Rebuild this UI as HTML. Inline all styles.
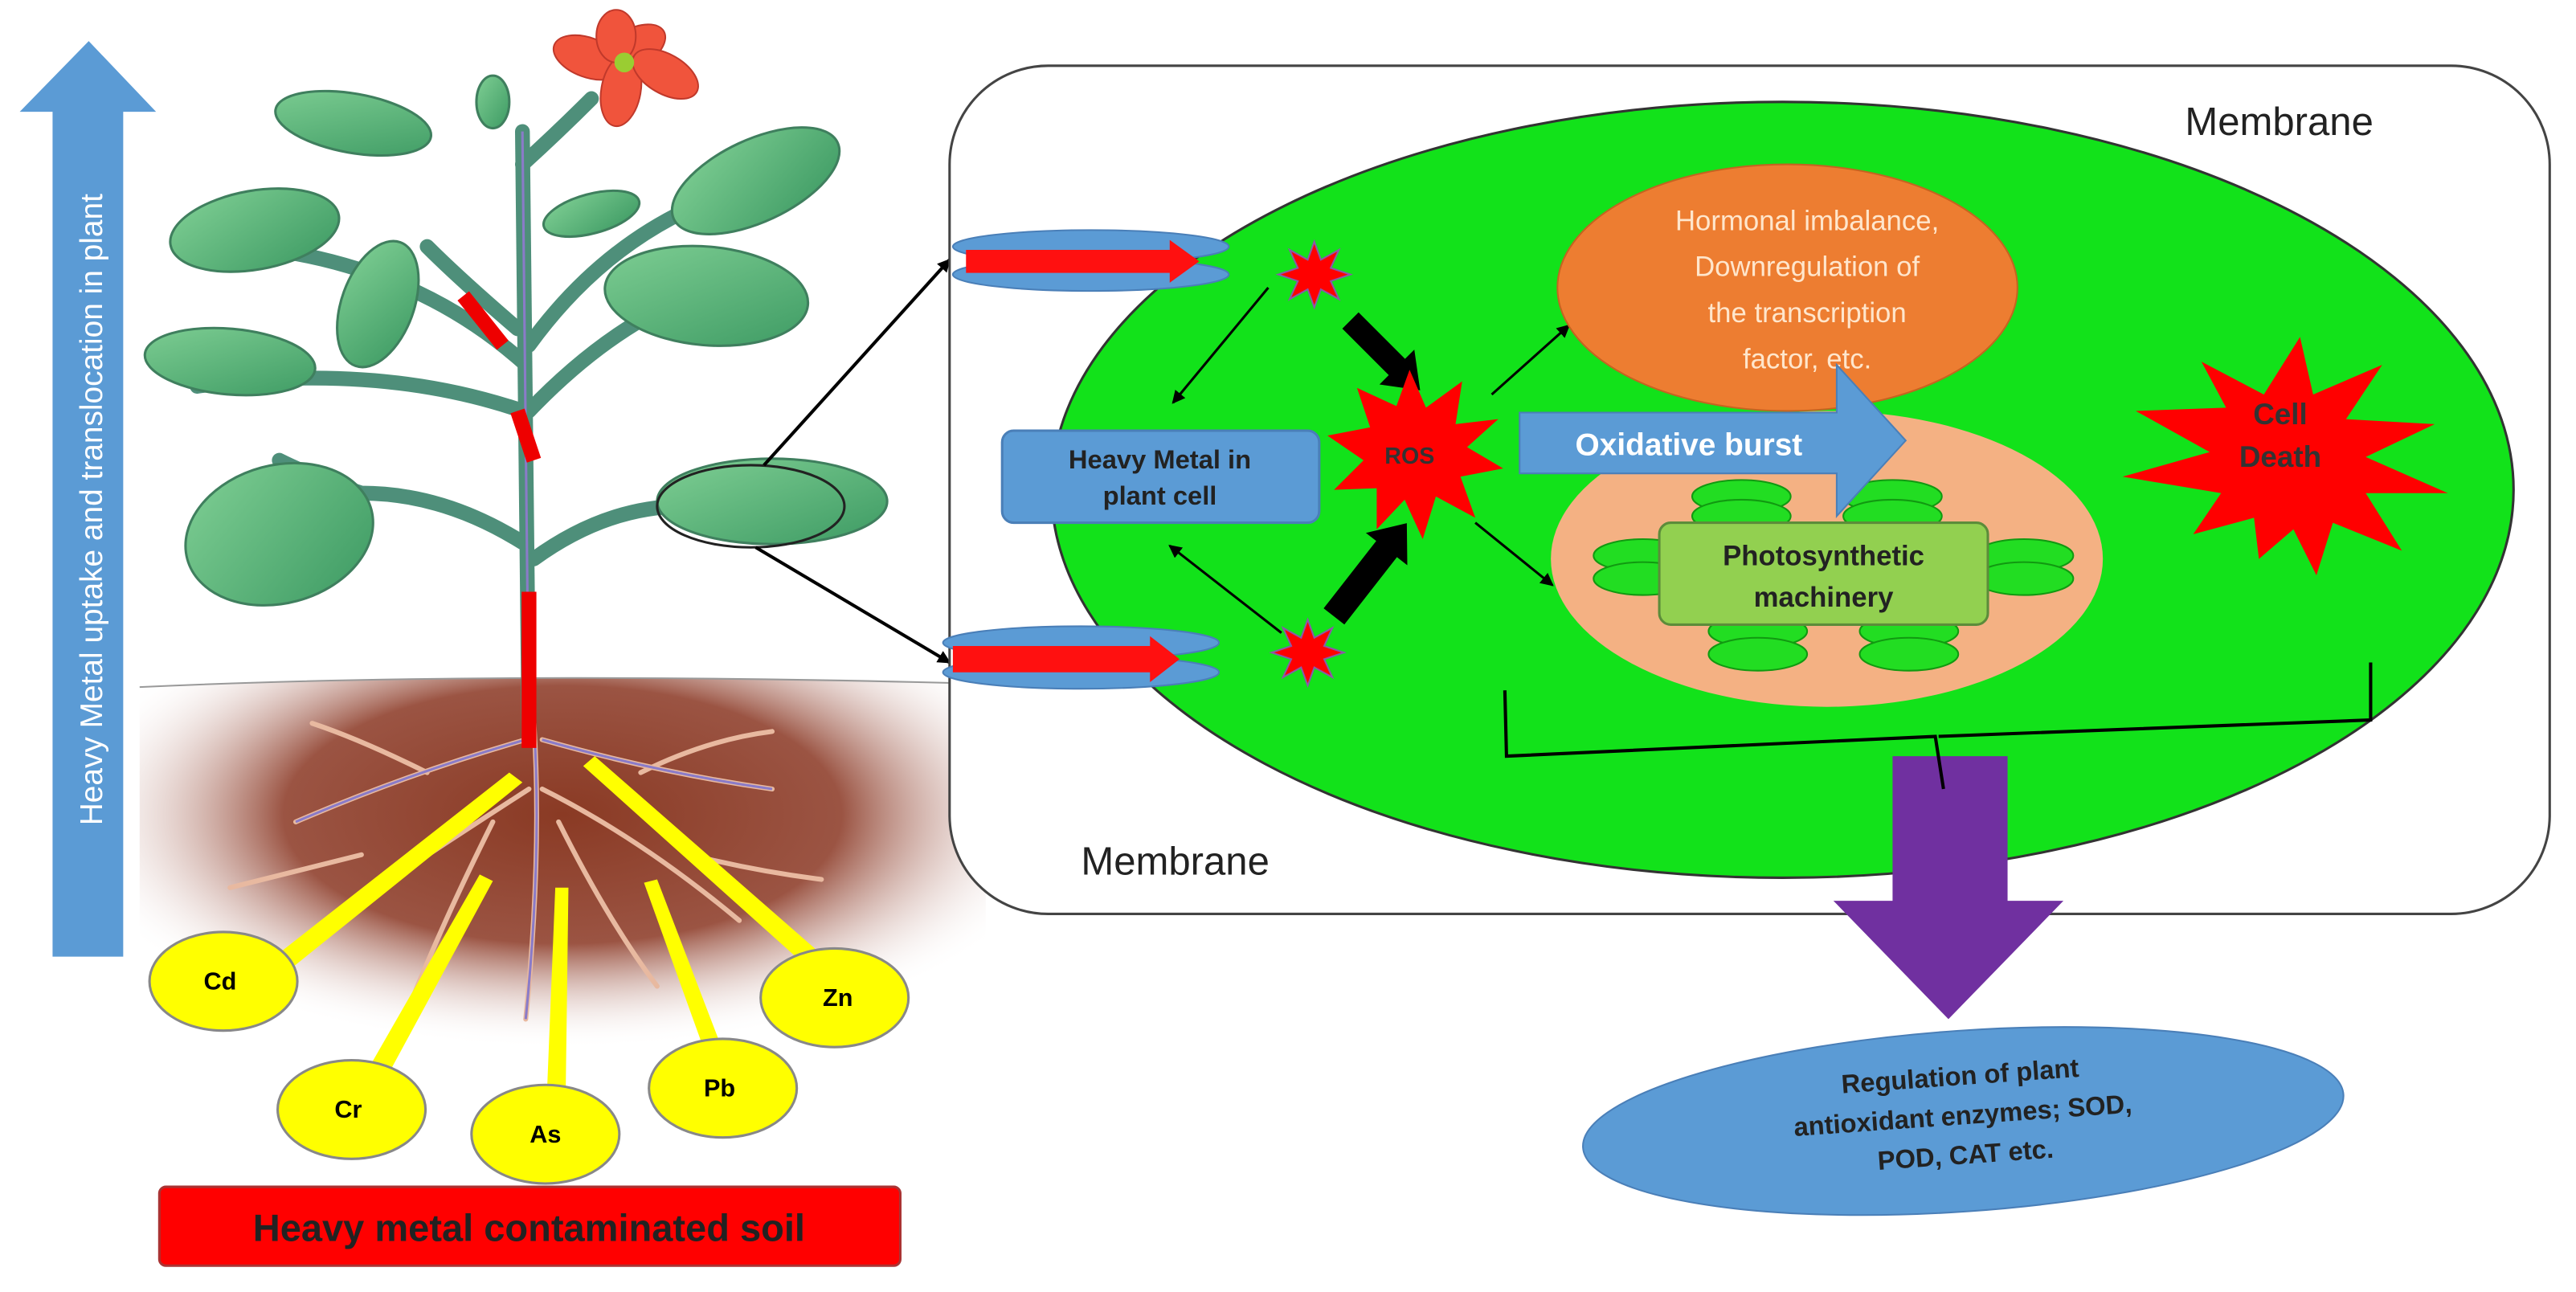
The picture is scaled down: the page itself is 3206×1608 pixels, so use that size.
<!DOCTYPE html>
<html><head><meta charset="utf-8"><style>
html,body{margin:0;padding:0;background:#fff}
svg{display:block}
text{font-family:"Liberation Sans",Arial,sans-serif}
</style></head><body>
<svg width="3206" height="1608" viewBox="0 0 1568 786" preserveAspectRatio="none" xmlns="http://www.w3.org/2000/svg">
<defs>
<radialGradient id="soil" cx="0.5" cy="0.35" r="0.6">
<stop offset="0" stop-color="#8a3a24"/><stop offset="0.55" stop-color="#9b5443"/><stop offset="1" stop-color="#fff" stop-opacity="0"/>
</radialGradient>
<linearGradient id="leaf" x1="0" y1="0" x2="1" y2="1"><stop offset="0" stop-color="#7fcf94"/><stop offset="1" stop-color="#3d9a63"/></linearGradient>
<marker id="ah" markerWidth="8" markerHeight="8" refX="7" refY="4" orient="auto" markerUnits="userSpaceOnUse"><path d="M0,0 L8,4 L0,8z" fill="#000"/></marker>
</defs>
<rect width="1568" height="786" fill="#fff"/>
<path d="M85,418 Q300,408 600,416 L600,650 L85,650z" fill="url(#soil)"/>
<path d="M85,418 Q300,408 600,416" stroke="#999" stroke-width="1" fill="none"/>
<polygon points="32,582 75,582 75,68 95,68 54,25 12,68 32,68" fill="#5b9bd5"/>
<text transform="translate(62,310) rotate(-90)" text-anchor="middle" font-size="19" fill="#fff">Heavy Metal uptake and translocation in plant</text>
<g stroke="#e8b9a0" stroke-width="3" fill="none" stroke-linecap="round">
<path d="M325,440 Q330,520 320,620"/><path d="M320,450 Q250,470 180,500"/><path d="M330,450 Q400,470 470,480"/>
<path d="M322,480 Q260,520 200,560"/><path d="M330,480 Q390,510 450,560"/><path d="M300,500 Q270,560 250,610"/>
<path d="M340,500 Q370,560 400,600"/><path d="M260,470 Q220,450 190,440"/><path d="M390,470 Q430,450 470,445"/>
<path d="M220,520 Q180,530 140,540"/><path d="M420,520 Q460,530 500,535"/>
</g>
<g stroke="#8a7bc8" stroke-width="1.5" fill="none"><path d="M325,440 Q330,520 320,620"/><path d="M320,450 Q250,470 180,500"/><path d="M330,450 Q400,470 470,480"/></g>
<g fill="#ffff00">
<polygon points="148,597 310,470 318,476 160,603"/>
<polygon points="210,675 292,532 300,536 222,680"/>
<polygon points="332,688 338,540 346,540 344,690"/>
<polygon points="437,662 392,537 400,535 448,660"/>
<polygon points="510,605 355,466 362,460 520,598"/>
</g>
<g fill="#ffff00" stroke="#888" stroke-width="1.5">
<ellipse cx="136" cy="597" rx="45" ry="30"/><ellipse cx="214" cy="675" rx="45" ry="30"/>
<ellipse cx="332" cy="690" rx="45" ry="30"/><ellipse cx="440" cy="662" rx="45" ry="30"/><ellipse cx="508" cy="607" rx="45" ry="30"/>
</g>
<g font-size="15" font-weight="bold" text-anchor="middle" fill="#000">
<text x="134" y="602">Cd</text><text x="212" y="680">Cr</text><text x="332" y="695">As</text><text x="438" y="667">Pb</text><text x="510" y="612">Zn</text>
</g>
<g stroke="#4e8f7a" stroke-width="9" fill="none" stroke-linecap="round">
<path d="M322,450 L318,80"/>
<path d="M318,100 Q340,80 360,60"/>
<path d="M318,220 Q250,160 150,150"/>
<path d="M318,250 Q230,220 120,235"/>
<path d="M318,330 Q270,300 220,300 Q190,290 170,280"/>
<path d="M315,200 Q280,170 260,150"/>
<path d="M322,210 Q380,130 470,110"/>
<path d="M322,250 Q370,200 420,180"/>
<path d="M325,340 Q380,300 440,310"/>
</g>
<g stroke="#8a7bc8" stroke-width="1.5" fill="none"><path d="M322,450 L318,80"/></g>
<g fill="url(#leaf)" stroke="#3f7f5e" stroke-width="1.5">
<ellipse cx="215" cy="75" rx="48" ry="18" transform="rotate(10 215 75)"/>
<ellipse cx="155" cy="140" rx="52" ry="24" transform="rotate(-10 155 140)"/>
<ellipse cx="140" cy="220" rx="52" ry="20" transform="rotate(5 140 220)"/>
<ellipse cx="230" cy="185" rx="22" ry="40" transform="rotate(20 230 185)"/>
<ellipse cx="170" cy="325" rx="58" ry="42" transform="rotate(-15 170 325)"/>
<ellipse cx="460" cy="110" rx="55" ry="25" transform="rotate(-25 460 110)"/>
<ellipse cx="430" cy="180" rx="62" ry="30" transform="rotate(5 430 180)"/>
<ellipse cx="470" cy="305" rx="70" ry="26" transform="rotate(0 470 305)"/>
<ellipse cx="360" cy="130" rx="30" ry="12" transform="rotate(-15 360 130)"/>
<ellipse cx="300" cy="62" rx="10" ry="16"/>
</g>
<g fill="#f0543c" stroke="#c0392b" stroke-width="1">
<ellipse cx="385" cy="30" rx="22" ry="12" transform="rotate(-30 385 30)"/>
<ellipse cx="358" cy="35" rx="22" ry="12" transform="rotate(20 358 35)"/>
<ellipse cx="378" cy="55" rx="12" ry="22" transform="rotate(10 378 55)"/>
<ellipse cx="405" cy="45" rx="22" ry="12" transform="rotate(30 405 45)"/>
<ellipse cx="375" cy="22" rx="12" ry="16"/>
</g>
<circle cx="380" cy="38" r="6" fill="#9acd32"/>
<g stroke="#e00" stroke-width="9" stroke-linecap="butt">
<line x1="282" y1="180" x2="306" y2="210"/><line x1="315" y1="250" x2="325" y2="280"/><line x1="322" y1="360" x2="322" y2="455"/>
</g>
<ellipse cx="457" cy="308" rx="57" ry="25" fill="none" stroke="#222" stroke-width="1.5"/>
<line x1="465" y1="283" x2="578" y2="158" stroke="#000" stroke-width="2" marker-end="url(#ah)"/>
<line x1="460" y1="333" x2="578" y2="403" stroke="#000" stroke-width="2" marker-end="url(#ah)"/>
<rect x="97" y="722" width="451" height="48" rx="4" fill="#ff0000" stroke="#a33" stroke-width="1.5"/>
<text x="322" y="755" font-size="23" font-weight="bold" text-anchor="middle" fill="#222">Heavy metal contaminated soil</text>

<rect x="578" y="40" width="974" height="516" rx="60" fill="#fff" stroke="#444" stroke-width="1.5"/>
<ellipse cx="1085" cy="298" rx="445" ry="236" fill="#12e21a" stroke="#333" stroke-width="1.5"/>
<text x="1330" y="82" font-size="24" fill="#222">Membrane</text>
<text x="658" y="532" font-size="24" fill="#222">Membrane</text>
<g fill="#5b9bd5" stroke="#4a7fb8" stroke-width="1">
<ellipse cx="664" cy="150" rx="84" ry="10"/><ellipse cx="664" cy="167" rx="84" ry="10"/>
<ellipse cx="658" cy="391" rx="84" ry="10"/><ellipse cx="658" cy="409" rx="84" ry="10"/>
</g>
<polygon points="588,152 712,152 712,146 730,159 712,172 712,166 588,166" fill="#ff1010"/>
<polygon points="580,393 700,393 700,387 718,401 700,415 700,409 580,409" fill="#ff1010"/>
<g fill="#ff0000" stroke="#8a5aa8" stroke-width="1">
<polygon points="800,147 804,158 815,152 810,163 822,167 810,171 815,182 804,176 800,187 796,176 785,182 790,171 778,167 790,163 785,152 796,158"/>
<polygon points="796,377 800,388 811,382 806,393 818,397 806,401 811,412 800,406 796,417 792,406 781,412 786,401 774,397 786,393 781,382 792,388"/>
</g>
<g stroke="#000" stroke-width="1.5" marker-end="url(#ah)">
<line x1="772" y1="175" x2="714" y2="245"/>
<line x1="780" y1="385" x2="712" y2="332"/>
<line x1="908" y1="240" x2="955" y2="198"/>
<line x1="898" y1="318" x2="945" y2="356"/>
</g>
<!-- thick black arrows -->
<g transform="translate(822,195) rotate(45)">
<polygon points="0,-7 40,-7 40,-15 60,0 40,15 40,7 0,7" fill="#000"/>
</g>
<g transform="translate(812,375) rotate(-52)">
<polygon points="0,-8 52,-8 52,-16 72,0 52,16 52,8 0,8" fill="#000"/>
</g>
<rect x="610" y="262" width="193" height="56" rx="7" fill="#5b9bd5" stroke="#4a7fb8" stroke-width="1.5"/>
<text x="706" y="285" font-size="16" font-weight="bold" text-anchor="middle" fill="#222">Heavy Metal in</text>
<text x="706" y="307" font-size="16" font-weight="bold" text-anchor="middle" fill="#222">plant cell</text>
<polygon fill="#ff0000" points="858,225 868,248 890,232 886,258 912,255 893,272 915,285 889,290 898,315 874,302 866,328 855,304 838,322 838,297 812,298 830,280 808,265 834,260 826,236 850,247" />
<text x="858" y="282" font-size="14" font-weight="bold" text-anchor="middle" fill="#333">ROS</text>
<ellipse cx="1088" cy="175" rx="140" ry="75" fill="#ed7d31" stroke="#c46420" stroke-width="1"/>
<g font-size="17" text-anchor="middle" fill="#ffe6cc">
<text x="1100" y="140">Hormonal imbalance,</text>
<text x="1100" y="168">Downregulation of</text>
<text x="1100" y="196">the transcription</text>
<text x="1100" y="224">factor, etc.</text>
</g>
<ellipse cx="1112" cy="340" rx="168" ry="90" fill="#f4b183"/>
<g fill="#22dd22" stroke="#119911" stroke-width="1">
<ellipse cx="1060" cy="302" rx="30" ry="10"/><ellipse cx="1060" cy="314" rx="30" ry="10"/>
<ellipse cx="1152" cy="302" rx="30" ry="10"/><ellipse cx="1152" cy="314" rx="30" ry="10"/>
<ellipse cx="1000" cy="338" rx="30" ry="10"/><ellipse cx="1000" cy="352" rx="30" ry="10"/>
<ellipse cx="1232" cy="338" rx="30" ry="10"/><ellipse cx="1232" cy="352" rx="30" ry="10"/>
<ellipse cx="1070" cy="384" rx="30" ry="10"/><ellipse cx="1070" cy="398" rx="30" ry="10"/>
<ellipse cx="1162" cy="384" rx="30" ry="10"/><ellipse cx="1162" cy="398" rx="30" ry="10"/>
</g>
<rect x="1010" y="318" width="200" height="62" rx="7" fill="#92d050" stroke="#5c8c3a" stroke-width="1.5"/>
<text x="1110" y="344" font-size="17" font-weight="bold" text-anchor="middle" fill="#222">Photosynthetic</text>
<text x="1110" y="369" font-size="17" font-weight="bold" text-anchor="middle" fill="#222">machinery</text>
<polygon points="925,251 1118,251 1118,222 1160,268 1118,314 1118,288 925,288" fill="#5b9bd5" stroke="#4a7fb8" stroke-width="1"/>
<text x="1028" y="277" font-size="19" font-weight="bold" text-anchor="middle" fill="#fff">Oxidative burst</text>
<polygon fill="#ff0000" points="1400,205 1408,240 1450,222 1428,255 1482,258 1440,278 1490,300 1440,300 1462,335 1420,318 1410,350 1396,322 1375,340 1372,315 1335,325 1352,300 1292,290 1345,275 1300,250 1355,248 1340,220 1378,240"/>
<text x="1388" y="258" font-size="18" font-weight="bold" text-anchor="middle" fill="#333">Cell</text>
<text x="1388" y="284" font-size="18" font-weight="bold" text-anchor="middle" fill="#333">Death</text>
<polygon points="1152,460 1222,460 1222,548 1256,548 1186,620 1116,548 1152,548" fill="#7030a0"/>
<path d="M916,420 L917,460 L1178,448 L1183,480 M1180,448 L1443,438 L1443,403" stroke="#000" stroke-width="2" fill="none"/>
<ellipse cx="1195" cy="682" rx="232" ry="55" transform="rotate(-4 1195 682)" fill="#5b9bd5" stroke="#4a7fb8" stroke-width="1"/>
<g font-size="16" font-weight="bold" text-anchor="middle" fill="#222" transform="rotate(-4 1195 682)">
<text x="1195" y="660">Regulation of plant</text>
<text x="1195" y="684">antioxidant enzymes; SOD,</text>
<text x="1195" y="708">POD, CAT etc.</text>
</g>
</svg>
</body></html>
